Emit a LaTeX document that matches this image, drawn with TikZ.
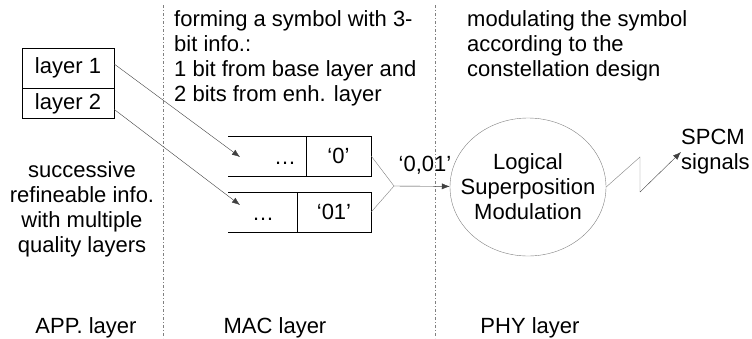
\documentclass[tikz,border=0pt]{standalone}
\usepackage{fontspec}
\setmainfont{Liberation Sans}
\usepackage{tikz}
\usetikzlibrary{arrows.meta}
\usetikzlibrary{positioning}
\usetikzlibrary{shapes.geometric}

\tikzset{
  txt/.style={inner sep=0pt, font=\fontsize{22}{25}\selectfont},
  layerbox/.style={txt, draw, minimum width=92pt},
  cell/.style={txt, draw, minimum height=40pt},
  sep/.style={gray, dash pattern=on 3pt off 2pt on 1pt off 2pt},
  feed/.style={draw=black!75, -{Latex[length=8pt,width=6pt]}},
  merge/.style={draw=gray},
  plmshape/.style={txt, ellipse, draw=gray, align=center, inner xsep=-14pt,
    minimum width=156pt, minimum height=138pt},
}

\begin{document}
\begin{tikzpicture}[x=1pt, y=-1pt]

    \useasboundingbox (0,0) rectangle (752,338);

    \draw [sep] (163,5) -- (163,338);
    \draw [sep] (435,5) -- (435,338);

    \node [layerbox, minimum height=40pt] (lay1) at (68,68) {layer 1};
    \node [layerbox, minimum height=30pt, below=0pt of lay1] (lay2) {layer 2};
    \node [txt, align=center, anchor=north] (appinfo) at (82,161)
      {successive\\refineable info.\\with multiple\\quality layers};

    \node [txt, align=left, anchor=north west] (macinfo) at (174,10)
      {forming a symbol with 3-\\bit info.:\\1 bit from base layer and\\2 bits from enh. layer};
    \node [txt, align=left, anchor=north west] (phyinfo) at (467,10)
      {modulating the symbol\\according to the\\constellation design};

    \node [cell, minimum width=65pt] (sym1) at (338.5,156) {‘0’};
    \node [cell, minimum width=74pt] (sym2) at (334,212) {‘01’};
    \draw (sym1.north west) -- ++(-78,0);
    \draw (sym1.south west) -- ++(-78,0);
    \draw (sym2.north west) -- ++(-69,0);
    \draw (sym2.south west) -- ++(-69,0);
    \node [txt, anchor=base] (dots1) at (285,164) {…};
    \node [txt, anchor=base] (dots2) at (263,220) {…};

    \coordinate (in1) at (240,157);
    \coordinate (in2) at (240,205);
    \draw [feed] ([yshift=4pt]lay1.east) -- (in1);
    \draw [feed] ([yshift=-6pt]lay2.east) -- (in2);

    \node [plmshape] (plm) at (528,187) {Logical\\Superposition\\Modulation};
    \coordinate (join) at (394,186);
    \draw [merge] (sym1.east) -- (join);
    \draw [merge] (sym2.east) -- (join);
    \draw [feed] (join) -- (plm);
    \node [txt] (bits) at (425,165) {‘0,01’};

    \node [txt, align=left, anchor=west] (spcm) at (681,152) {SPCM\\signals};
    \coordinate (zig1) at (640,157);
    \coordinate (zig2) at (640,192);
    \draw [merge] (plm.east) -- (zig1) -- (zig2);
    \draw [feed] (zig2) -- (spcm.west);

    \node [txt, anchor=base] (app) at (86,333) {APP. layer};
    \node [txt, anchor=base] (mac) at (275,333) {MAC layer};
    \node [txt, anchor=base] (phy) at (530,333) {PHY layer};

  \end{tikzpicture}
\end{document}
